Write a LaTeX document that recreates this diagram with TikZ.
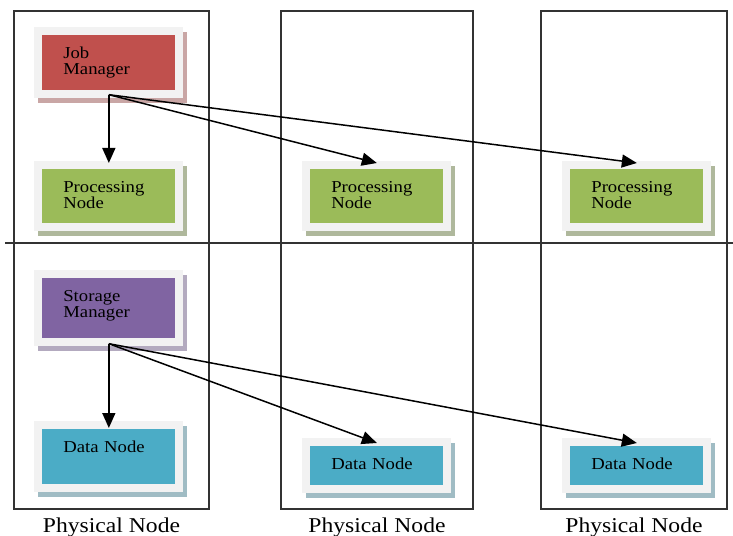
\documentclass[tikz,border=0pt]{standalone}
\usepackage{fontspec}
\setmainfont{Liberation Serif}
\newfontfamily\boxfont[FakeStretch=1.12]{Liberation Serif}
\usepackage{tikz}
\usetikzlibrary{arrows.meta,positioning}
\definecolor{jobred}{HTML}{C0504D}
\definecolor{jobshade}{HTML}{C9A6A5}
\definecolor{procgreen}{HTML}{9BBB59}
\definecolor{procshade}{HTML}{AFB89C}
\definecolor{storpurple}{HTML}{8064A2}
\definecolor{storshade}{HTML}{B3AABF}
\definecolor{datablue}{HTML}{4BACC6}
\definecolor{datashade}{HTML}{A0BCC4}
\definecolor{framegray}{HTML}{F2F2F2}
\tikzset{
    phys/.style={draw=black!80, line width=0.04cm, minimum height=9.96cm, inner sep=0pt},
    physlabel/.style={font=\boxfont\fontsize{12}{12}\selectfont, label distance=0.04cm},
    box/.style 2 args={rectangle, fill=#1, anchor=north west, inner xsep=0.42cm, inner ysep=0pt,
        text width=1.82cm, align=left, text height=0.46cm, font=\boxfont\fontsize{9.5}{9}\selectfont,
        preaction={draw=#2, line width=0.32cm, transform canvas={shift={(0.08cm,-0.1cm)}}},
        preaction={draw=framegray, line width=0.32cm}},
    flow/.style={draw,-{Triangle[length=0.3cm,width=0.26cm]},line width=0.03cm},
}

\begin{document}
\begin{tikzpicture}[x=0.02cm,y=-0.02cm]
    \useasboundingbox (0,0) rectangle (733,536);

    % the three machines
    \node[phys, minimum width=3.9cm, label={[physlabel]below:Physical Node}] (phys1) at (111.5,260) {};
    \node[phys, minimum width=3.84cm, label={[physlabel]below:Physical Node}] (phys2) at (377,260) {};
    \node[phys, minimum width=3.72cm, label={[physlabel]below:Physical Node}] (phys3) at (634,260) {};
    \draw[black!80, line width=0.04cm] (5,243) -- (733,243);

    % computation layer
    \node[box={jobred}{jobshade}, text depth=0.64cm] (job) at (42,35) {Job\\Manager};
    \node[box={procgreen}{procshade}, text depth=0.62cm] (proc1) at (42,169) {Processing\\Node};
    \node[box={procgreen}{procshade}, text depth=0.62cm] (proc2) at (310,169) {Processing\\Node};
    \node[box={procgreen}{procshade}, text depth=0.62cm] (proc3) at (570,169) {Processing\\Node};

    % storage layer
    \node[box={storpurple}{storshade}, text depth=0.74cm] (stor) at (42,278) {Storage\\Manager};
    \node[box={datablue}{datashade}, text depth=0.64cm] (data1) at (42,429) {Data Node};
    \node[box={datablue}{datashade}, text depth=0.32cm] (data2) at (310,446) {Data Node};
    \node[box={datablue}{datashade}, text depth=0.32cm] (data3) at (570,446) {Data Node};

    \coordinate (jobout) at ([yshift=-0.08cm]job.south);
    \coordinate (storout) at ([yshift=-0.1cm]stor.south);

    \foreach \n in {1,2,3} \draw[flow] (jobout) -- ([yshift=0.12cm]proc\n.north);
    \draw[flow] (storout) -- ([yshift=0.02cm]data1.north);
    \draw[flow] (storout) -- ([yshift=0.06cm]data2.north);
    \draw[flow] (storout) -- ([yshift=0.06cm]data3.north);
\end{tikzpicture}
\end{document}
